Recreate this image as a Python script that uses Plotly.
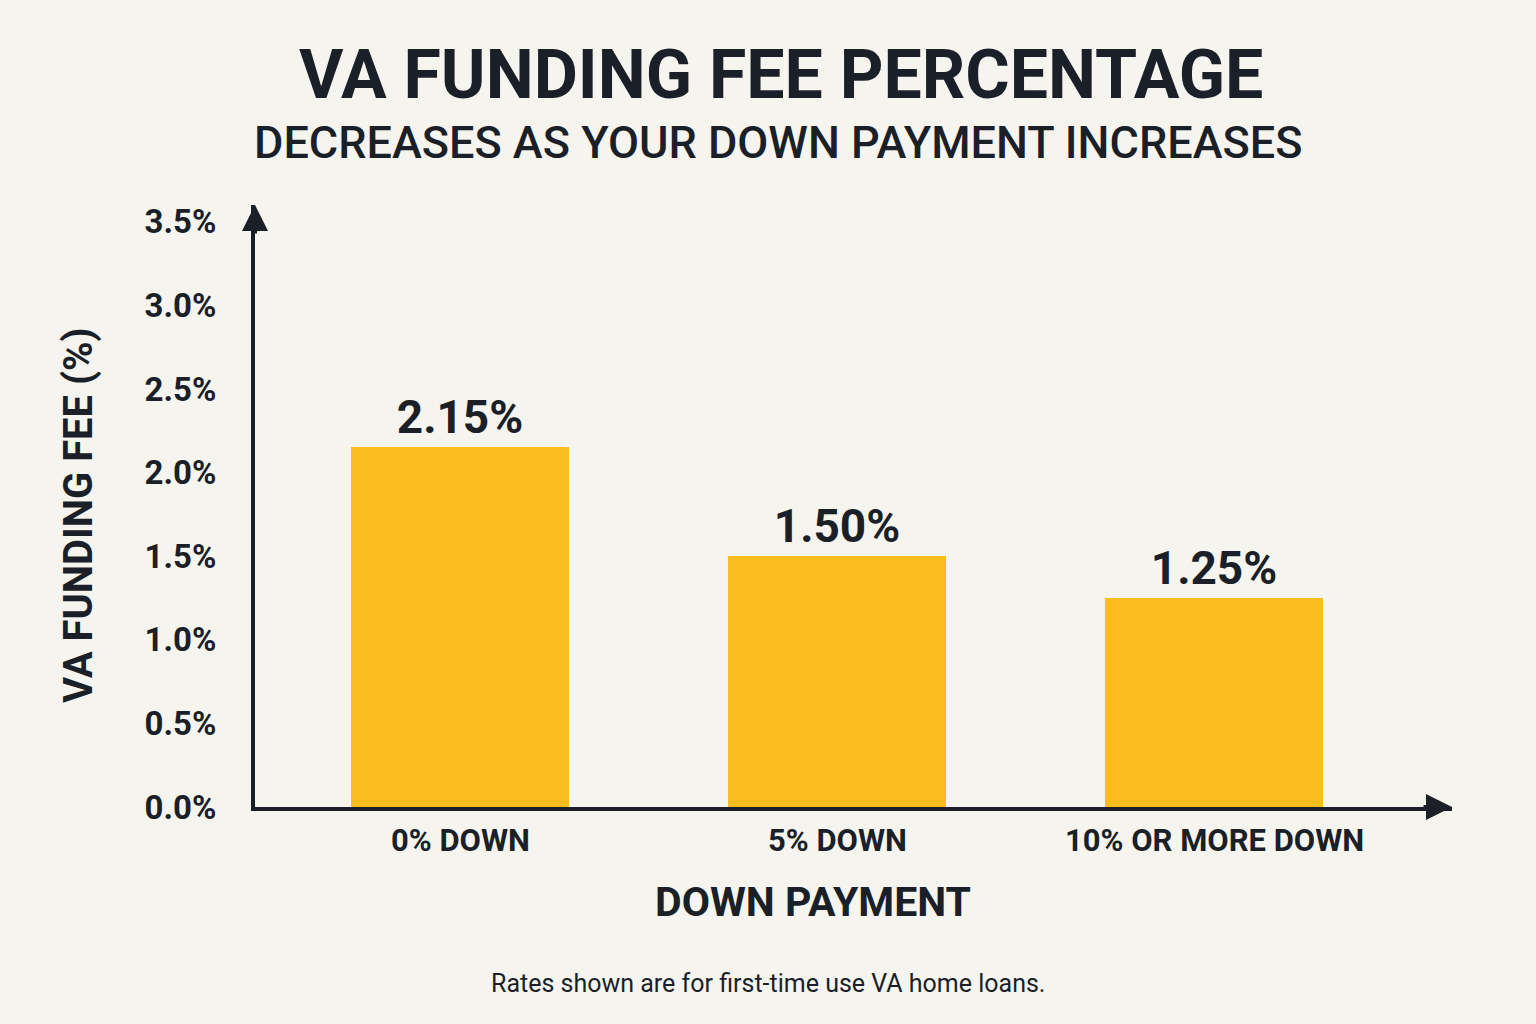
import plotly.graph_objects as go

categories = ["0% DOWN", "5% DOWN", "10% OR MORE DOWN"]
fees = [2.15, 1.50, 1.25]
bar_labels = ["2.15%", "1.50%", "1.25%"]
tick_vals = [0, 0.5, 1.0, 1.5, 2.0, 2.5, 3.0, 3.5]
tick_text = ["0.0%", "0.5%", "1.0%", "1.5%", "2.0%", "2.5%", "3.0%", "3.5%"]

title = "VA FUNDING FEE PERCENTAGE"
subtitle = "DECREASES AS YOUR DOWN PAYMENT INCREASES"
x_title = "DOWN PAYMENT"
y_title = "VA FUNDING FEE (%)"
footnote = "Rates shown are for first-time use VA home loans."

W, H = 1536, 1024
L, R, T, B = 255, 84, 205, 217
PW = W - L - R
PH = H - T - B
INK = "#1B1F27"
BG = "#F5F4EF"
BAR = "#FBBC1E"
FONT = "Roboto, Inter, DejaVu Sans, sans-serif"


def px(x):
    return (x - L) / PW


def py(y):
    return (H - B - y) / PH


fig = go.Figure()
fig.add_trace(go.Bar(
    x=categories, y=fees, text=bar_labels, texttemplate="%{text}",
    textposition="outside", cliponaxis=False,
    textfont=dict(family=FONT, size=46, color=INK, weight="bold"),
    marker=dict(color=BAR, line=dict(width=0)), width=0.578,
    hoverinfo="skip",
))

fig.update_layout(
    width=W, height=H, paper_bgcolor=BG, plot_bgcolor=BG,
    margin=dict(l=L, r=R, t=T, b=B),
    showlegend=False, bargap=0,
    xaxis=dict(
        type="category", range=[-0.544, 2.631], showgrid=False,
        showline=True, linewidth=4, linecolor=INK, zeroline=False,
        ticks="", showticklabels=False, fixedrange=True,
    ),
    yaxis=dict(
        range=[0, 3.6], tickvals=tick_vals, ticktext=tick_text,
        showgrid=False, showline=True, linewidth=4, linecolor=INK,
        zeroline=False, ticks="", ticklabelstandoff=28,
        tickfont=dict(family=FONT, size=33, color=INK, weight="bold"),
    ),
)

anns = []
# title and subtitle
anns.append(dict(text=title, x=px(781), y=py(75), xref="paper", yref="paper",
                 showarrow=False, xanchor="center", yanchor="middle",
                 font=dict(family=FONT, size=68, color=INK, weight="bold")))
anns.append(dict(text=subtitle, x=px(778), y=py(142), xref="paper", yref="paper",
                 showarrow=False, xanchor="center", yanchor="middle",
                 font=dict(family=FONT, size=45, color=INK, weight=500)))
# category labels
for c in categories:
    anns.append(dict(text=c, x=c, y=py(840), xref="x", yref="paper",
                     showarrow=False, xanchor="center", yanchor="middle",
                     font=dict(family=FONT, size=31, color=INK, weight="bold")))
# axis titles
anns.append(dict(text=x_title, x=px(813), y=py(902), xref="paper", yref="paper",
                 showarrow=False, xanchor="center", yanchor="middle",
                 font=dict(family=FONT, size=41, color=INK, weight="bold")))
anns.append(dict(text=y_title, x=px(78), y=py(515), xref="paper", yref="paper",
                 showarrow=False, xanchor="center", yanchor="middle", textangle=-90,
                 font=dict(family=FONT, size=40, color=INK, weight="bold")))
# footnote
anns.append(dict(text=footnote, x=px(768), y=py(983), xref="paper", yref="paper",
                 showarrow=False, xanchor="center", yanchor="middle",
                 font=dict(family=FONT, size=25, color=INK)))
# arrowheads
anns.append(dict(x=0, y=1, xref="paper", yref="paper", ax=0, ay=30,
                 showarrow=True, arrowhead=2, arrowsize=1.3, arrowwidth=4,
                 arrowcolor=INK, text=""))
anns.append(dict(x=1, y=0, xref="paper", yref="paper", ax=-30, ay=0,
                 showarrow=True, arrowhead=2, arrowsize=1.3, arrowwidth=4,
                 arrowcolor=INK, text=""))
fig.update_layout(annotations=anns)

fig.write_html("out.html")
